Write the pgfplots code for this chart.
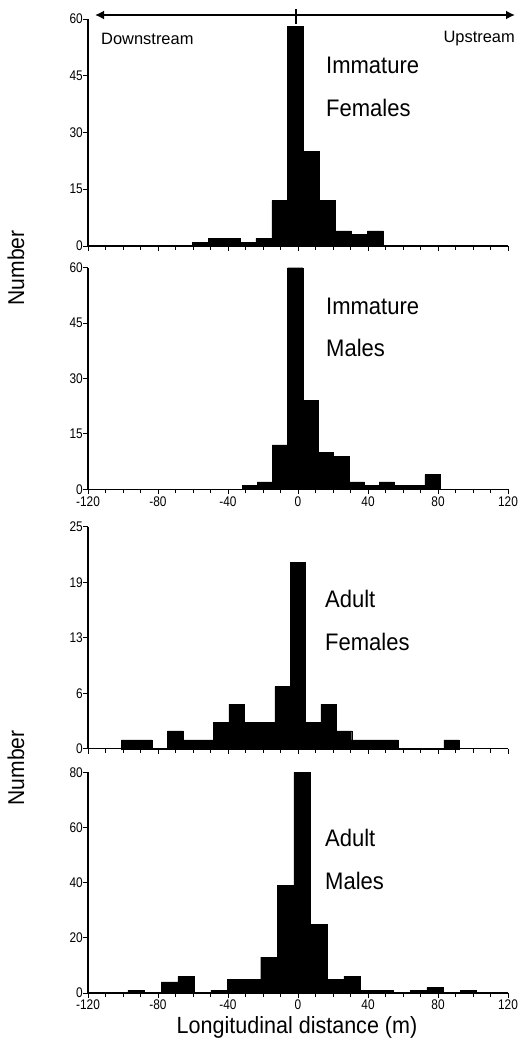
\documentclass[border=0pt]{standalone}
\usepackage{fontspec}
\setmainfont{Liberation Sans}
\newfontfamily\tickfont[FakeStretch=0.85]{Liberation Sans}
\newfontfamily\labfont[FakeStretch=0.92]{Liberation Sans}
\usepackage{pgfplots}
\pgfplotsset{compat=1.18}
\usetikzlibrary{arrows.meta}

\pgfplotsset{
  panel/.style={
    scale only axis, width=420bp, xmin=-120, xmax=120, ymin=0,
    axis x line*=bottom, axis y line*=left,
    axis line style={line width=1.2bp},
    tick align=outside, major tick length=5bp, minor tick length=4bp,
    xtick={-120,-80,...,120}, minor x tick num=3,
    tick style={line width=0.9bp, black},
    every tick label/.append style={font=\tickfont\fontsize{14}{14}\selectfont},
    yticklabel style={inner sep=0bp},
    xticklabel style={inner sep=0bp, yshift=-2bp},
    /pgf/number format/assume math mode=true,
    anchor=south west, clip=false,
  },
  bars/.style={ybar interval, fill=black, draw=black, line width=0.4bp},
}

\begin{document}
\begin{tikzpicture}
\useasboundingbox (0,0) rectangle (518bp,-1039bp);

% immature females
\begin{axis}[panel, at={(88bp,-246bp)}, height=227bp, ymax=60,
  ytick={0,15,30,45,60}, xticklabels={}]
  \addplot[bars] coordinates {(-60.5,1) (-51.4,2) (-42.3,2) (-33.2,1) (-24.1,2) (-15.0,12)
    (-5.9,58) (3.2,25) (12.3,12) (21.4,4) (30.5,3) (39.6,4) (48.7,0)};
\end{axis}

% immature males
\begin{axis}[panel, at={(88bp,-489.3bp)}, height=221.6bp, ymax=60,
  ytick={0,15,30,45,60}, xticklabels={-120,-80,-40,0,40,80,120}]
  \addplot[bars] coordinates {(-32.0,1) (-23.3,2) (-14.6,12) (-5.9,60) (2.8,24) (11.6,10)
    (20.3,9) (29.0,2) (37.7,1) (46.4,2) (55.1,1) (63.8,1) (72.5,4) (81.2,0)};
\end{axis}

% adult females
\begin{axis}[panel, at={(88bp,-748.7bp)}, height=222bp, ymax=25,
  ytick={0,6.25,12.5,18.75,25}, yticklabels={0,6,13,19,25}, xticklabels={}]
  \addplot[bars] coordinates {(-100.9,1) (-92.1,1) (-83.4,0) (-74.6,2) (-65.8,1) (-57.0,1)
    (-48.3,3) (-39.5,5) (-30.7,3) (-22.0,3) (-13.2,7) (-4.4,21) (4.3,3) (13.1,5) (21.9,2)
    (30.7,1) (39.4,1) (48.2,1) (57.0,0) (65.7,0) (74.5,0) (83.3,1) (92.0,0)};
\end{axis}

% adult males
\begin{axis}[panel, at={(88bp,-993bp)}, height=220.7bp, ymax=80,
  ytick={0,20,40,60,80}, xticklabels={-120,-80,-40,0,40,80,120}]
  \addplot[bars] coordinates {(-97.2,1) (-87.7,0) (-78.2,4) (-68.7,6) (-59.2,0) (-49.8,1)
    (-40.3,5) (-30.8,5) (-21.3,13) (-11.8,39) (-2.3,80) (7.2,25) (16.7,5) (26.2,6) (35.7,1)
    (45.2,1) (54.6,0) (64.1,1) (73.6,2) (83.1,0) (92.6,1) (102.1,0)};
\end{axis}

% direction arrow
\draw[line width=2.2bp, {Latex[length=9bp,width=9bp]}-{Latex[length=9bp,width=9bp]}] (95bp,-15bp) -- (515bp,-15bp);
\draw[line width=1.2bp] (296bp,-9bp) -- (296bp,-24bp);
\node[anchor=west, inner sep=0, font=\fontsize{16.5}{16.5}\selectfont] at (101bp,-39bp) {Downstream};
\node[anchor=east, inner sep=0, font=\fontsize{16.5}{16.5}\selectfont] at (515bp,-39bp) {Upstream};

% panel names
\begin{scope}[every node/.style={anchor=west, inner sep=0, font=\labfont\fontsize{24}{24}\selectfont}]
\node at (326bp,-65bp) {Immature};
\node at (326bp,-108bp) {Females};
\node at (326bp,-306.7bp) {Immature};
\node at (326bp,-348bp) {Males};
\node at (325bp,-599bp) {Adult};
\node at (325bp,-641.7bp) {Females};
\node at (325bp,-838bp) {Adult};
\node at (325bp,-881bp) {Males};
\end{scope}

\node[rotate=90, font=\labfont\fontsize{23}{23}\selectfont] at (16bp,-268bp) {Number};
\node[rotate=90, font=\labfont\fontsize{23}{23}\selectfont] at (16bp,-768bp) {Number};
\node[anchor=base, inner sep=0, font=\labfont\fontsize{23.5}{23.5}\selectfont] at (297bp,-1033bp) {Longitudinal distance (m)};
\end{tikzpicture}
\end{document}
